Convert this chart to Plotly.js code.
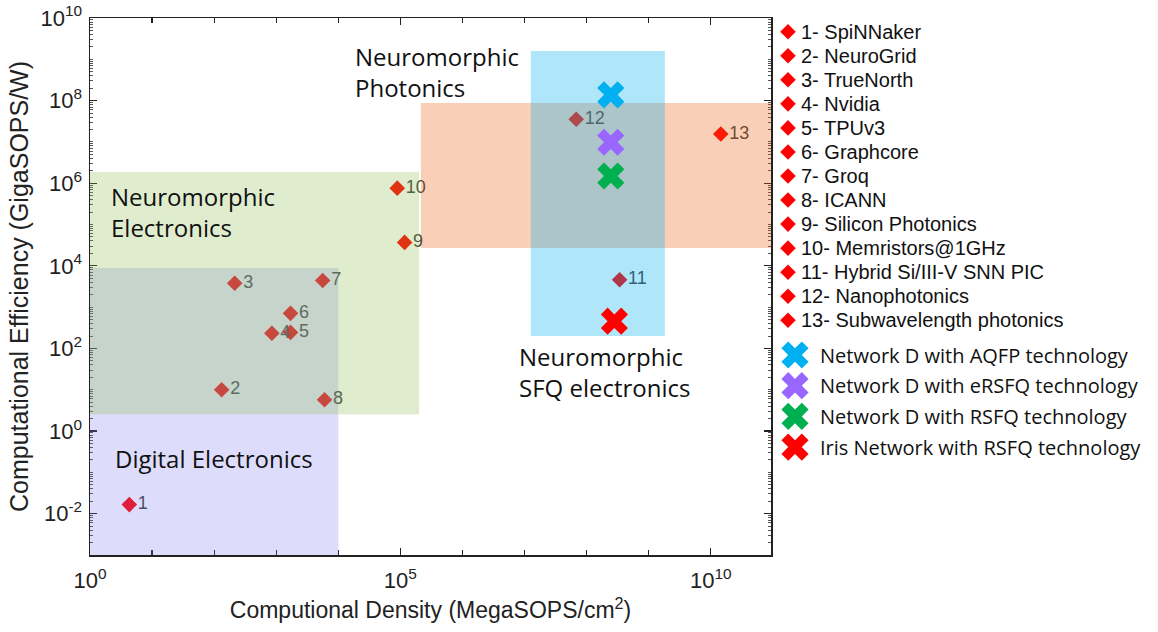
<!DOCTYPE html>
<html><head><meta charset="utf-8">
<script src="https://cdn.plot.ly/plotly-3.0.1.min.js"></script>
<style>html,body{margin:0;padding:0;background:#fff}</style>
</head><body><div id="chart" style="width:1158px;height:632px"></div>
<script>
// ---- data ----
const systemIds = ['1','2','3','4','5','6','7','8','9','10','11','12','13'];
const systemNames = ['1- SpiNNaker','2- NeuroGrid','3- TrueNorth','4- Nvidia','5- TPUv3','6- Graphcore','7- Groq','8- ICANN','9- Silicon Photonics','10- Memristors@1GHz','11- Hybrid Si/III-V SNN PIC','12- Nanophotonics','13- Subwavelength photonics'];
const density = [4.3, 132, 214, 850, 1700, 1700, 5600, 6000, 117000, 89000, 3.4e8, 6.8e7, 1.45e10];
const efficiency = [0.0166, 10, 3800, 234, 245, 708, 4400, 5.75, 37000, 7.6e5, 4600, 3.55e7, 1.55e7];

const scenarioNames = ['Network D with AQFP technology','Network D with eRSFQ technology','Network D with RSFQ technology','Iris Network with RSFQ technology'];
const scenarioDensity = [2.45e8, 2.45e8, 2.45e8, 2.8e8];
const scenarioEfficiency = [1.38e8, 9.8e6, 1.5e6, 457];

const regionNames = ['Digital Electronics','Neuromorphic Electronics','Neuromorphic Photonics','Neuromorphic SFQ electronics'];
const regionDensityMin = [1, 1, 2.14e5, 1.26e7];
const regionDensityMax = [1e4, 2.0e5, 9.3e10, 1.82e9];
const regionEffMin = [1e-3, 2.57, 2.69e4, 200];
const regionEffMax = [8900, 1.86e6, 8.7e7, 1.58e9];

const xTickVals = [1, 1e5, 1e10];
const xTickText = ['10<sup>0</sup>','10<sup>5</sup>','10<sup>10</sup>'];
const yTickVals = [1e-2, 1, 1e2, 1e4, 1e6, 1e8, 1e10];
const yTickText = ['10<sup>-2</sup>','10<sup>0</sup>','10<sup>2</sup>','10<sup>4</sup>','10<sup>6</sup>','10<sup>8</sup>','10<sup>10</sup>'];

// ---- styles ----
const regionFill = ['rgba(120,120,240,0.25)','rgba(135,190,75,0.27)','rgba(235,95,15,0.3)','rgba(0,174,239,0.31)'];
const scenarioColors = ['#00b0f0','#9966ff','#00b050','#ff0000'];
const regionLabel = ['Digital Electronics','Neuromorphic<br>Electronics','Neuromorphic<br>Photonics','Neuromorphic<br>SFQ electronics'];
const regionLabelPx = [[113,458],[109,212],[353,72],[517,372]];

const traces = [];
// diamonds (below region overlays)
traces.push({
  type:'scatter', mode:'markers+text', x:density, y:efficiency, text:systemIds,
  textposition:'middle right', textfont:{family:'Liberation Sans, Arial', size:18, color:'#404040'},
  marker:{symbol:'diamond', size:12, color:'#ff0000', line:{width:0}},
  hovertext:systemNames, hoverinfo:'text+x+y', xaxis:'x', yaxis:'y', cliponaxis:false
});
// region overlays
regionNames.forEach((n,i)=>{
  const x0=regionDensityMin[i], x1=regionDensityMax[i], y0=regionEffMin[i], y1=regionEffMax[i];
  traces.push({type:'scatter', mode:'lines', x:[x0,x1,x1,x0,x0], y:[y0,y0,y1,y1,y0],
    fill:'toself', fillcolor:regionFill[i], line:{width:0}, name:n, hoverinfo:'name', xaxis:'x', yaxis:'y'});
});
// crosses
scenarioNames.forEach((n,i)=>{
  traces.push({type:'scatter', mode:'markers', x:[scenarioDensity[i]], y:[scenarioEfficiency[i]], name:n,
    marker:{symbol:'x', size:24, color:scenarioColors[i], line:{width:0}}, xaxis:'x', yaxis:'y'});
});

// custom legend in pixel axes
const legDX = 788, legDY0 = 31.7, legDStep = 24.05;
const legXX = 795, legXY0 = 355, legXStep = 30.7;
traces.push({type:'scatter', mode:'markers', x:systemNames.map(()=>legDX), y:systemNames.map((_,i)=>legDY0+i*legDStep),
  marker:{symbol:'diamond', size:12, color:'#ff0000'}, hoverinfo:'skip', xaxis:'x3', yaxis:'y3'});
traces.push({type:'scatter', mode:'markers', x:scenarioNames.map(()=>legXX), y:scenarioNames.map((_,i)=>legXY0+i*legXStep),
  marker:{symbol:'x', size:24, color:scenarioColors}, hoverinfo:'skip', xaxis:'x3', yaxis:'y3'});

const annotations = [];
systemNames.forEach((n,i)=>annotations.push({xref:'x3', yref:'y3', x:799, y:legDY0+i*legDStep, text:n, showarrow:false,
  xanchor:'left', yanchor:'middle', font:{family:'Liberation Sans, Arial', size:20, color:'#111'}}));
scenarioNames.forEach((n,i)=>annotations.push({xref:'x3', yref:'y3', x:818, y:legXY0+i*legXStep, text:n, showarrow:false,
  xanchor:'left', yanchor:'middle', font:{family:'Open Sans', size:20, color:'#111'}}));
regionLabel.forEach((t,i)=>annotations.push({xref:'x3', yref:'y3', x:regionLabelPx[i][0], y:regionLabelPx[i][1], text:t, showarrow:false,
  xanchor:'left', yanchor:'middle', align:'left', font:{family:'Open Sans', size:24, color:'#111'}}));

const axCommon = {type:'log', showgrid:false, zeroline:false, showline:true, linecolor:'#222', linewidth:1.5,
  mirror:'allticks', ticks:'inside', tickcolor:'#222', tickwidth:1.2, layer:'below traces', tickmode:'array',
  tickfont:{family:'Liberation Sans, Arial', size:22, color:'#222'}};

const layout = {
  width:1158, height:632, margin:{l:90, r:0, t:18, b:77}, paper_bgcolor:'#fff', plot_bgcolor:'rgba(0,0,0,0)',
  showlegend:false, annotations:annotations,
  xaxis: Object.assign({}, axCommon, {domain:[0, 681/1068], range:[0,10.97], tickvals:xTickVals, ticktext:xTickText, ticklen:7,
    minor:{tickmode:'linear', dtick:1, ticks:'inside', ticklen:5, tickcolor:'#222', tickwidth:1.2},
    ticklabelstandoff:5,
    title:{text:'Computional Density (MegaSOPS/cm<sup>2</sup>)', font:{family:'Liberation Sans, Arial', size:23, color:'#222'}, standoff:10},
    anchor:'y'}),
  yaxis: Object.assign({}, axCommon, {domain:[0,1], range:[-3,10], tickvals:yTickVals, ticktext:yTickText, ticklen:7,
    ticklabelstandoff:2,
    minor:{tickmode:'linear', dtick:'D1', ticks:'inside', ticklen:3, tickcolor:'#555', tickwidth:1},
    title:{text:'Computational Efficiency (GigaSOPS/W)', font:{family:'Liberation Sans, Arial', size:25, color:'#222'}, standoff:4},
    anchor:'x'}),
  xaxis3:{domain:[0,1], range:[90,1158], visible:false, fixedrange:true, anchor:'y3'},
  yaxis3:{domain:[0,1], range:[555,18], visible:false, fixedrange:true, anchor:'x3'}
};

Plotly.newPlot('chart', traces, layout, {displayModeBar:false, staticPlot:true});
</script></body></html>
